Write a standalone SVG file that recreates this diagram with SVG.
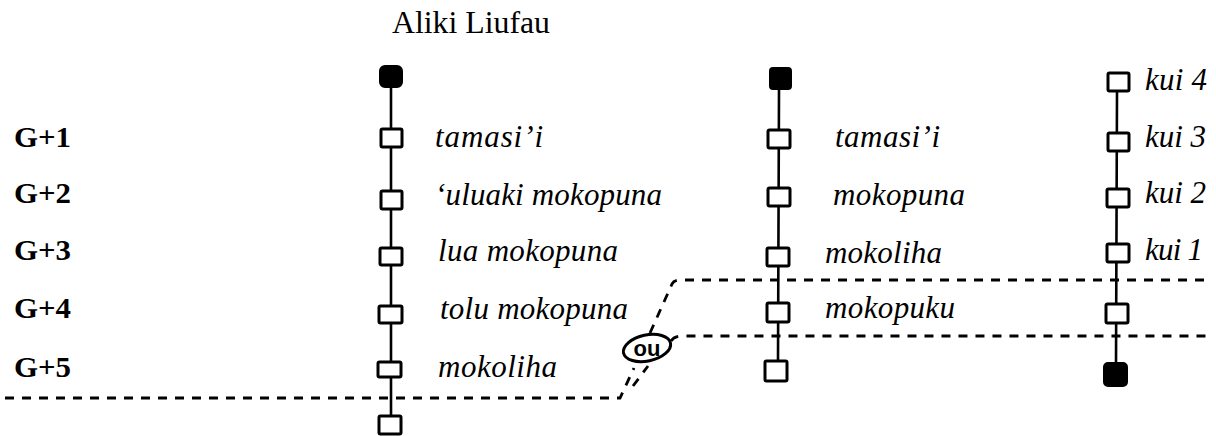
<svg xmlns="http://www.w3.org/2000/svg" width="1216" height="436" viewBox="0 0 1216 436">
<style>
.sq{fill:#fff;stroke:#000;stroke-width:3;stroke-linejoin:round}
.fd{fill:#000;stroke:#000;stroke-width:2;stroke-linejoin:round}
.ln{stroke:#000;stroke-width:2.6;fill:none;stroke-linecap:round}
.ds{stroke:#000;stroke-width:2.8;fill:none;stroke-dasharray:9 8}
.it{font-family:"Liberation Serif","Times New Roman",serif;font-style:italic;font-size:31px;fill:#000}
.gb{font-family:"Liberation Serif","Times New Roman",serif;font-weight:bold;font-size:30px;fill:#000}
.tt{font-family:"Liberation Serif","Times New Roman",serif;font-size:31px;fill:#000}
.ou{font-family:"Liberation Sans",Arial,sans-serif;font-weight:bold;font-size:22px;fill:#000}
</style>
<rect width="1216" height="436" fill="#fff"/>
<g id="connectors">
  <line class="ln" x1="391" y1="88" x2="391" y2="416"/>
  <line class="ln" x1="779" y1="90" x2="778" y2="362"/>
  <line class="ln" x1="1117" y1="92" x2="1116" y2="364"/>
  <path class="ds" d="M5,398 H620 L634,368"/>
  <path class="ds" d="M633,386 L648,366"/>
  <path class="ds" d="M650,333 L672,284 Q674,280 681,280 H1205"/>
  <path class="ds" d="M671,341 Q674,336 682,336 H1207"/>
</g>
<g id="title"><text class="tt" x="392" y="33" textLength="158" lengthAdjust="spacingAndGlyphs">Aliki Liufau</text></g>
<g id="generations">
  <text class="gb" x="14" y="147" textLength="57" lengthAdjust="spacingAndGlyphs">G+1</text>
  <text class="gb" x="14" y="203" textLength="57" lengthAdjust="spacingAndGlyphs">G+2</text>
  <text class="gb" x="14" y="260" textLength="57" lengthAdjust="spacingAndGlyphs">G+3</text>
  <text class="gb" x="14" y="318" textLength="57" lengthAdjust="spacingAndGlyphs">G+4</text>
  <text class="gb" x="14" y="377" textLength="57" lengthAdjust="spacingAndGlyphs">G+5</text>
</g>
<g id="col1">
  <g id="n1-0"><rect class="fd" x="380" y="66" width="22" height="21" rx="5"/></g>
  <g id="n1-1"><rect class="sq" x="381" y="129" width="21" height="18" rx="1.5"/><text class="it" x="435" y="147" textLength="108" lengthAdjust="spacing">tamasi’i</text></g>
  <g id="n1-2"><rect class="sq" x="381" y="191" width="21" height="18" rx="1.5"/><text class="it" x="435" y="205" textLength="227" lengthAdjust="spacing">‘uluaki mokopuna</text></g>
  <g id="n1-3"><rect class="sq" x="380" y="248" width="22" height="17" rx="1.5"/><text class="it" x="438" y="261" textLength="180" lengthAdjust="spacing">lua mokopuna</text></g>
  <g id="n1-4"><rect class="sq" x="379" y="306" width="23" height="17" rx="1.5"/><text class="it" x="440" y="319" textLength="188" lengthAdjust="spacing">tolu mokopuna</text></g>
  <g id="n1-5"><rect class="sq" x="378" y="362" width="23" height="15" rx="1.5"/><text class="it" x="438" y="377" textLength="119" lengthAdjust="spacing">mokoliha</text></g>
  <g id="n1-6"><rect class="sq" x="379" y="416" width="22" height="18" rx="1.5"/></g>
</g>
<g id="col2">
  <g id="n2-0"><rect class="fd" x="770" y="68" width="21" height="21" rx="3"/></g>
  <g id="n2-1"><rect class="sq" x="768" y="130" width="22" height="18" rx="1.5"/><text class="it" x="835" y="147" textLength="105" lengthAdjust="spacing">tamasi’i</text></g>
  <g id="n2-2"><rect class="sq" x="768" y="188" width="22" height="18" rx="1.5"/><text class="it" x="833" y="205" textLength="132" lengthAdjust="spacing">mokopuna</text></g>
  <g id="n2-3"><rect class="sq" x="767" y="248" width="22" height="18" rx="1.5"/><text class="it" x="825" y="263" textLength="117" lengthAdjust="spacing">mokoliha</text></g>
  <g id="n2-4"><rect class="sq" x="767" y="303" width="22" height="19" rx="1.5"/><text class="it" x="825" y="318" textLength="130" lengthAdjust="spacing">mokopuku</text></g>
  <g id="n2-5"><rect class="sq" x="765" y="361" width="22" height="20" rx="1.5"/></g>
</g>
<g id="col3">
  <g id="n3-0"><rect class="sq" x="1108" y="73" width="21" height="18" rx="1.5"/><text class="it" x="1145" y="90" textLength="62" lengthAdjust="spacing">kui 4</text></g>
  <g id="n3-1"><rect class="sq" x="1108" y="133" width="21" height="18" rx="1.5"/><text class="it" x="1145" y="147" textLength="61" lengthAdjust="spacing">kui 3</text></g>
  <g id="n3-2"><rect class="sq" x="1107" y="189" width="22" height="18" rx="1.5"/><text class="it" x="1145" y="203" textLength="61" lengthAdjust="spacing">kui 2</text></g>
  <g id="n3-3"><rect class="sq" x="1107" y="244" width="22" height="18" rx="1.5"/><text class="it" x="1145" y="260" textLength="58" lengthAdjust="spacing">kui 1</text></g>
  <g id="n3-4"><rect class="sq" x="1106" y="304" width="22" height="19" rx="1.5"/></g>
  <g id="n3-5"><rect class="fd" x="1104" y="363" width="23" height="23" rx="4"/></g>
</g>
<g id="ou">
  <ellipse cx="647" cy="348" rx="24" ry="13" fill="#fff" stroke="#000" stroke-width="3" transform="rotate(-12 647 348)"/>
  <text class="ou" x="647" y="356" text-anchor="middle">ou</text>
</g>
</svg>
